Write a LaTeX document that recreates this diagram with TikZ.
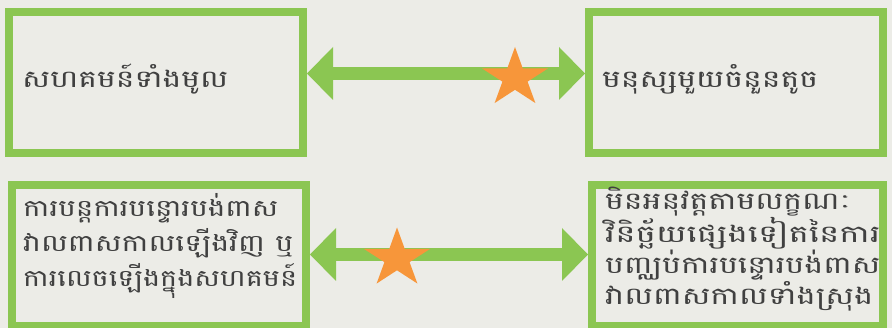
\documentclass[tikz,border=0pt]{standalone}
\usepackage{fontspec}
\usepackage{graphicx}
\newfontfamily\khmer[Script=Khmer]{Battambang}
\usetikzlibrary{arrows.meta}
\definecolor{bg}{RGB}{236,236,231}
\definecolor{grn}{RGB}{139,198,82}
\definecolor{org}{RGB}{247,150,58}
\definecolor{txt}{RGB}{64,64,64}
\newcommand\fitw[2]{\resizebox{#1}{\height}{#2}}
\tikzset{
  box/.style={draw=grn, line width=8pt, minimum height=141pt, inner sep=0pt},
  lbl/.style={text=txt, inner sep=0pt, align=left, anchor=base west},
  bigtxt/.style={font=\khmer\fontsize{24}{30}\selectfont},
  smltxt/.style={font=\khmer\fontsize{23.5}{35}\selectfont},
  tinytxt/.style={font=\khmer\fontsize{24}{29.5}\selectfont},
  link/.style={draw=grn, line width=13pt, arrows={ahead-ahead}},
  starfill/.style={fill=org},
}
\tikzset{ahead/.tip={Triangle[length=26pt,width=53pt,line width=0pt]}}
\newcommand\kstar[1]{\fill[starfill, shift={#1}, xscale=1.12]
  (-90:31) -- (-126:11.8) -- (-162:31) -- (-198:11.8) -- (-234:31) --
  (-270:11.8) -- (-306:31) -- (-342:11.8) -- (-378:31) -- (-414:11.8) -- cycle;}
\begin{document}
\begin{tikzpicture}[x=1pt,y=-1pt]
\fill[bg] (0,0) rectangle (892,328);
\useasboundingbox (0,0) rectangle (892,328);
% boxes
\node[box, minimum width=294pt] (tl) at (156,82.5) {};
\node[box, minimum width=294pt] (tr) at (736,82.5) {};
\node[box, minimum width=294pt] (bl) at (159,255.5) {};
\node[box, minimum width=291pt] (br) at (737.5,255.5) {};
% texts
\node[lbl, bigtxt] (tlt) at (22,88) {\fitw{206pt}{សហគមន៍ទាំងមូល}};
\node[lbl, bigtxt] (trt) at (602,88) {\fitw{216pt}{មនុស្សមួយចំនួនតូច}};
\node[lbl, smltxt] (blt) at (23,287) {\fitw{255pt}{ការបន្តការបន្ទោរបង់ពាស}\\\fitw{270pt}{វាលពាសកាលឡើងវិញ ឬ}\\\fitw{274pt}{ការលេចឡើងក្នុងសហគមន៍}};
\node[lbl, tinytxt] (brt) at (605,304.5) {\fitw{246pt}{មិនអនុវត្តតាមលក្ខណៈ}\\\fitw{275pt}{វិនិច្ឆ័យផ្សេងទៀតនៃការ}\\\fitw{275pt}{បញ្ឈប់ការបន្ទោរបង់ពាស}\\\fitw{268pt}{វាលពាសកាលទាំងស្រុង}};
% connectors
\draw[link] ([yshift=9pt]tl.east) -- ([yshift=9pt]tr.west);
\draw[link] ([yshift=1pt]bl.east) -- ([yshift=1pt]br.west);
% stars
\kstar{(515,78)}
\kstar{(397,258.5)}
\end{tikzpicture}
\end{document}
